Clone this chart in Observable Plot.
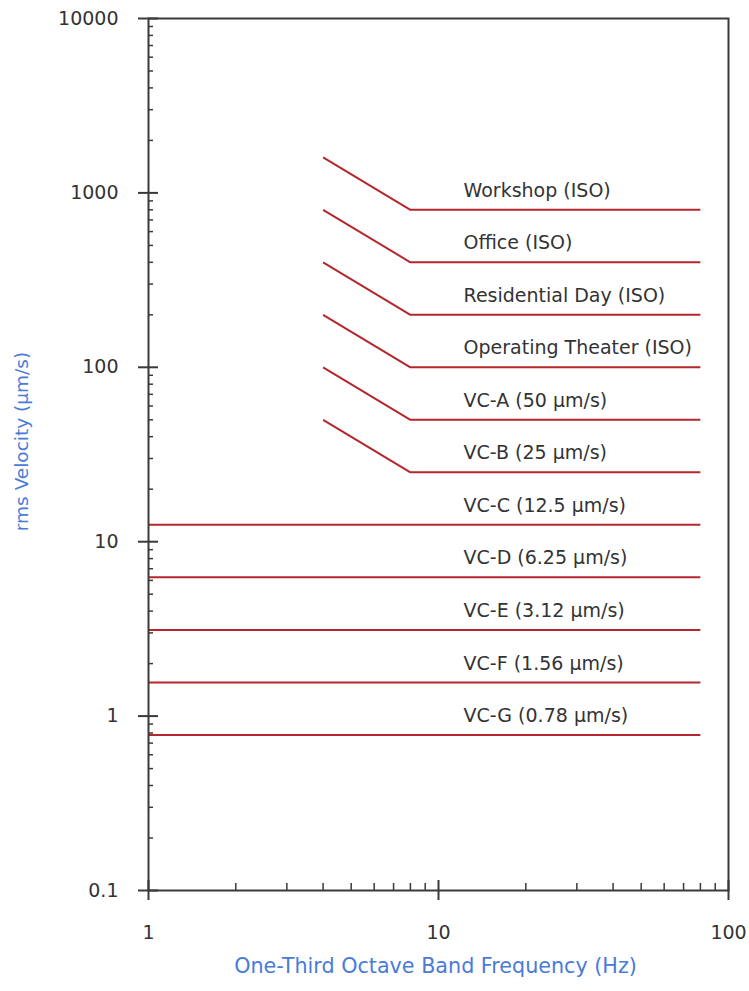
<!DOCTYPE html>
<html>
<head>
<meta charset="utf-8">
<script src="https://cdn.jsdelivr.net/npm/d3@7"></script>
<script src="https://cdn.jsdelivr.net/npm/@observablehq/plot@0.6"></script>
<style>
  html, body { margin: 0; padding: 0; background: #fff; }
</style>
</head>
<body>
<div id="chart"></div>
<script>
// ISO criteria (slope 4→8 Hz, flat 8→80 Hz)
const isoNames = ["Workshop (ISO)", "Office (ISO)", "Residential Day (ISO)", "Operating Theater (ISO)", "VC-A (50 µm/s)", "VC-B (25 µm/s)"];
const isoStartValues = [1600, 800, 400, 200, 100, 50];   // at 4 Hz
const isoFlatValues = [800, 400, 200, 100, 50, 25];        // from 8 Hz to 80 Hz
const isoFreqs = [4, 8, 80];

// VC criteria (flat 1→80 Hz)
const vcNames = ["VC-C (12.5 µm/s)", "VC-D (6.25 µm/s)", "VC-E (3.12 µm/s)", "VC-F (1.56 µm/s)", "VC-G (0.78 µm/s)"];
const vcValues = [12.5, 6.25, 3.12, 1.56, 0.78];
const vcFreqs = [1, 80];

const labelFreq = 12.2;

const yMajor = [0.1, 1, 10, 100, 1000, 10000];
const yMinor = [0.2,0.3,0.4,0.5,0.6,0.7,0.8,0.9, 2,3,4,5,6,7,8,9, 20,30,40,50,60,70,80,90, 200,300,400,500,600,700,800,900, 2000,3000,4000,5000,6000,7000,8000,9000];
const xMajor = [1, 10, 100];
const xMinor = [2,3,4,5,6,7,8,9, 20,30,40,50,60,70,80,90];

const xTitle = "One-Third Octave Band Frequency (Hz)";
const yTitle = "rms Velocity (µm/s)";

// Build line table
const lineData = [];
isoNames.forEach((name, i) => {
  lineData.push({name, f: isoFreqs[0], v: isoStartValues[i]});
  lineData.push({name, f: isoFreqs[1], v: isoFlatValues[i]});
  lineData.push({name, f: isoFreqs[2], v: isoFlatValues[i]});
});
vcNames.forEach((name, i) => {
  lineData.push({name, f: vcFreqs[0], v: vcValues[i]});
  lineData.push({name, f: vcFreqs[1], v: vcValues[i]});
});
const labelData = [
  ...isoNames.map((name, i) => ({name, v: isoFlatValues[i]})),
  ...vcNames.map((name, i) => ({name, v: vcValues[i]}))
];

const lineColor = "#b3272d";
const titleColor = "#4a7bd8";
const axisColor = "#3a3a3a";

const chart = Plot.plot({
  width: 749,
  height: 991,
  marginLeft: 148,
  marginRight: 21,
  marginTop: 18,
  marginBottom: 101,
  x: {type: "log", domain: [1, 100]},
  y: {type: "log", domain: [0.1, 10000]},
  style: {fontFamily: "'DejaVu Sans', sans-serif", fontSize: "18px", color: "#333", background: "white"},
  marks: [
    Plot.line(lineData, {x: "f", y: "v", z: "name", stroke: lineColor, strokeWidth: 2, strokeLinecap: "butt", strokeLinejoin: "miter"}),
    Plot.text(labelData, {x: () => labelFreq, y: "v", text: "name", textAnchor: "start", dy: -19, fill: "#333", fontSize: 19}),
    Plot.frame({stroke: axisColor, strokeWidth: 2}),
    Plot.axisY(yMajor, {tickSize: 10, tickPadding: 20, tickFormat: d => String(d), label: null, fontSize: 19, stroke: axisColor, strokeWidth: 2, fill: "#333"}),
    Plot.axisY(yMajor, {tickSize: -10, tickFormat: () => "", label: null, stroke: axisColor, strokeWidth: 2}),
    Plot.axisY(yMinor, {tickSize: -5, tickFormat: () => "", label: null, stroke: axisColor, strokeWidth: 1.5}),
    Plot.axisX(xMajor, {tickSize: 10, tickPadding: 25, tickFormat: d => String(d), label: null, fontSize: 19, stroke: axisColor, strokeWidth: 2, fill: "#333"}),
    Plot.axisX(xMajor, {tickSize: -10, tickFormat: () => "", label: null, stroke: axisColor, strokeWidth: 2}),
    Plot.axisX(xMinor, {tickSize: -7, tickFormat: () => "", label: null, stroke: axisColor, strokeWidth: 1.5}),
    Plot.text([xTitle], {frameAnchor: "bottom", textAnchor: "middle", dy: 82, dx: -3, fill: titleColor, fontSize: 20.7}),
    Plot.text([yTitle], {frameAnchor: "left", textAnchor: "middle", rotate: -90, dx: -126, dy: -13, fill: titleColor, fontSize: 18.5})
  ]
});
document.getElementById("chart").appendChild(chart);
</script>
</body>
</html>
